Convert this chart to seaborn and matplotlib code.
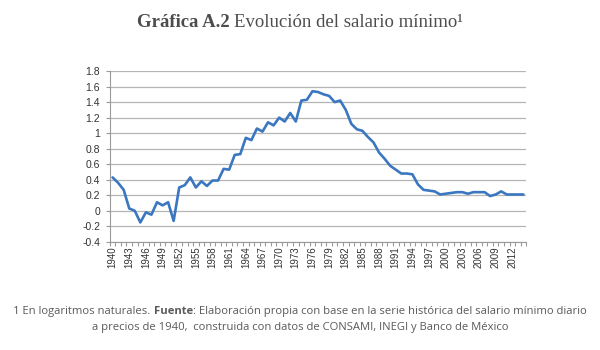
import matplotlib
matplotlib.use("Agg")
import matplotlib.pyplot as plt
import seaborn as sns
import pandas as pd
import numpy as np
from matplotlib.ticker import FixedLocator, FuncFormatter

years = list(range(1940, 2015))
values = [0.43, 0.36, 0.27, 0.03, 0.00, -0.15, -0.02, -0.05, 0.11, 0.07,
          0.11, -0.13, 0.30, 0.33, 0.43, 0.30, 0.38, 0.32, 0.39, 0.39,
          0.54, 0.53, 0.72, 0.73, 0.94, 0.91, 1.06, 1.02, 1.14, 1.10,
          1.20, 1.15, 1.26, 1.15, 1.42, 1.43, 1.54, 1.53, 1.50, 1.48,
          1.40, 1.42, 1.30, 1.12, 1.05, 1.03, 0.95, 0.88, 0.75, 0.67,
          0.58, 0.53, 0.48, 0.48, 0.47, 0.34, 0.27, 0.26, 0.25, 0.21,
          0.22, 0.23, 0.24, 0.24, 0.22, 0.24, 0.24, 0.24, 0.19, 0.21,
          0.25, 0.21, 0.21, 0.21, 0.21]
yticks = [-0.4, -0.2, 0, 0.2, 0.4, 0.6, 0.8, 1, 1.2, 1.4, 1.6, 1.8]
label_years = list(range(1940, 2013, 3))

title_bold = "Gráfica A.2"
title_rest = "Evolución del salario mínimo¹"
note1_a = "1 En logaritmos naturales."
note1_b = "Fuente"
note1_c = ": Elaboración propia con base en la serie histórica del salario mínimo diario"
note2 = "a precios de 1940,  construida con datos de CONSAMI, INEGI y Banco de México"

df = pd.DataFrame({"year": years, "value": values})

sns.set_theme(style="white")
plt.rcParams["font.family"] = ["Liberation Sans", "DejaVu Sans"]

fig = plt.figure(figsize=(6, 3.5), dpi=100)
ax = fig.add_axes([0.183, 0.309, 0.877 - 0.183, 0.797 - 0.309])

sns.lineplot(data=df, x="year", y="value", ax=ax, color="#3b77c0", linewidth=1.9)

ax.set_xlim(1939.5, 2014.5)
ax.set_ylim(-0.4, 1.8)
ax.set_yticks(yticks)
ax.yaxis.set_major_formatter(FuncFormatter(lambda v, p: f"{round(v, 1):g}"))
ax.set_xticks(label_years)
ax.set_xticklabels([str(y) for y in label_years], rotation=90)
ax.xaxis.set_minor_locator(FixedLocator(np.arange(1939.5, 2015, 1)))
ax.tick_params(axis="x", which="major", length=0, labelsize=7, colors="#333333", pad=3)
ax.tick_params(axis="x", which="minor", length=3, color="#9a9a9a", width=0.8, direction="out", bottom=True)
ax.tick_params(axis="y", which="major", length=3, color="#9a9a9a", width=0.8, labelsize=7.5,
               labelcolor="#333333", direction="out", left=True, pad=4)
ax.set_xlabel("")
ax.set_ylabel("")
ax.grid(axis="y", color="#b5b5b5", linewidth=0.9)
ax.grid(axis="x", visible=False)
for s in ["top", "right"]:
    ax.spines[s].set_visible(False)
for s in ["left", "bottom"]:
    ax.spines[s].set_color("#9a9a9a")
    ax.spines[s].set_linewidth(0.8)

tcol = "#4d4d4d"
tfam = ["Liberation Serif", "DejaVu Serif"]
ty = 1 - 27 / 350
t1 = fig.text(0, ty, title_bold, fontsize=13.5, fontweight="bold", family=tfam, color=tcol,
              va="baseline", ha="left")
t2 = fig.text(0, ty, title_rest, fontsize=13.5, family=tfam, color=tcol, va="baseline", ha="left")

ncol = "#5a5a5a"
nfam = ["Open Sans", "DejaVu Sans"]
nfs = 8.1
ny1 = 1 - 314 / 350
n1 = fig.text(0, ny1, note1_a, fontsize=nfs, family=nfam, color=ncol, va="baseline", ha="left")
n2 = fig.text(0, ny1, note1_b, fontsize=nfs, family=nfam, fontweight="bold", color=ncol, va="baseline", ha="left")
n3 = fig.text(0, ny1, note1_c, fontsize=nfs, family=nfam, color=ncol, va="baseline", ha="left")
fig.text(0.5, 1 - 330 / 350, note2, fontsize=nfs, family=nfam, color=ncol, va="baseline", ha="center")

fig.canvas.draw()
r = fig.canvas.get_renderer()


def layout(parts, gaps, center=0.5):
    widths = [p.get_window_extent(r).width / fig.bbox.width for p in parts]
    total = sum(widths) + sum(gaps)
    x = center - total / 2
    for i, (p, w) in enumerate(zip(parts, widths)):
        p.set_x(x)
        x += w + (gaps[i] if i < len(gaps) else 0)


layout([t1, t2], [5 / 600])
layout([n1, n2, n3], [3.5 / 600, 0])

fig.savefig("out.png", dpi=100)
